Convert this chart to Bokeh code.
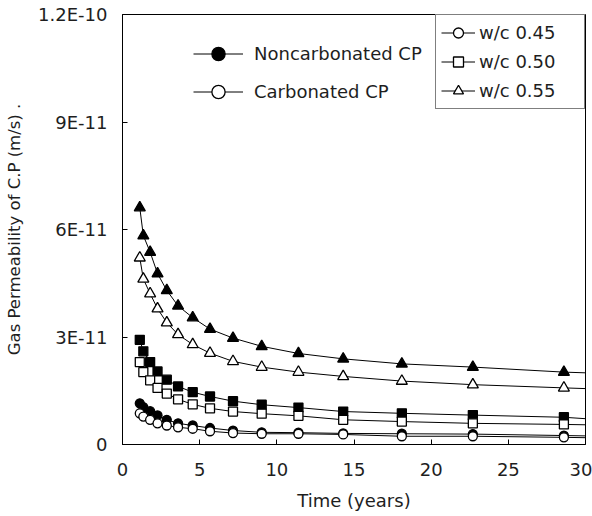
from bokeh.plotting import figure
from bokeh.models import Legend, LegendItem, FixedTicker, Range1d
from bokeh.embed import file_html
from bokeh.resources import INLINE

# ---- data (permeability in units of 1E-11 m/s) ----
years = [1.12, 1.35, 1.79, 2.27, 2.87, 3.60, 4.55, 5.67, 7.16, 9.02, 11.4, 14.3, 18.1, 22.7, 28.6]
end_year = 30

noncarb_045 = [1.15, 1.04, 0.93, 0.81, 0.69, 0.59, 0.53, 0.46, 0.39, 0.34, 0.33, 0.31, 0.30, 0.29, 0.25]
carb_045 = [0.87, 0.78, 0.69, 0.59, 0.53, 0.48, 0.44, 0.37, 0.32, 0.30, 0.30, 0.28, 0.23, 0.23, 0.20]
noncarb_050 = [2.92, 2.60, 2.30, 2.04, 1.81, 1.62, 1.46, 1.34, 1.21, 1.11, 1.03, 0.92, 0.87, 0.82, 0.76]
carb_050 = [2.30, 2.02, 1.79, 1.58, 1.42, 1.26, 1.12, 1.01, 0.92, 0.86, 0.80, 0.69, 0.64, 0.59, 0.56]
noncarb_055 = [6.61, 5.83, 5.37, 4.77, 4.30, 3.87, 3.54, 3.22, 2.97, 2.74, 2.54, 2.39, 2.25, 2.16, 2.02]
carb_055 = [5.21, 4.62, 4.21, 3.79, 3.40, 3.07, 2.79, 2.55, 2.32, 2.16, 2.02, 1.90, 1.77, 1.67, 1.58]

# curve values at the right edge (t = 30 years)
end_noncarb_045 = 0.24
end_carb_045 = 0.19
end_noncarb_050 = 0.72
end_carb_050 = 0.55
end_noncarb_055 = 2.00
end_carb_055 = 1.56

x_ticks = [0, 5, 10, 15, 20, 25, 30]
y_ticks = [0, 3, 6, 9, 12]
y_tick_labels = ["0", "3E-11", "6E-11", "9E-11", "1.2E-10"]

wc_labels = ["w/c 0.45", "w/c 0.50", "w/c 0.55"]
state_labels = ["Noncarbonated CP", "Carbonated CP"]
x_label = "Time (years)"
y_label = "Gas Permeability of C.P (m/s) ."

FONT = "DejaVu Sans"
TXT = "#1e1e1e"

p = figure(width=592, height=516, output_backend="svg", toolbar_location=None,
           x_range=Range1d(0, 30), y_range=Range1d(0, 12),
           min_border_left=122, min_border_right=7, min_border_top=14, min_border_bottom=72)
p.background_fill_color = "white"
p.border_fill_color = "white"
p.outline_line_color = "black"
p.outline_line_width = 1
p.xgrid.visible = False
p.ygrid.visible = False

for ax in (p.xaxis[0], p.yaxis[0]):
    ax.axis_line_color = "black"
    ax.major_tick_line_color = "black"
    ax.major_tick_in = 5
    ax.major_tick_out = 0
    ax.minor_tick_line_color = None
    ax.major_label_text_font = FONT
    ax.major_label_text_font_size = "18px"
    ax.major_label_text_color = TXT
    ax.axis_label_text_font = FONT
    ax.axis_label_text_font_style = "normal"
    ax.axis_label_text_color = TXT

p.xaxis[0].ticker = FixedTicker(ticks=x_ticks)
p.xaxis[0].major_label_standoff = 18
p.xaxis[0].axis_label = x_label
p.xaxis[0].axis_label_text_font_size = "18px"
p.xaxis[0].axis_label_standoff = 11

p.yaxis[0].ticker = FixedTicker(ticks=y_ticks)
p.yaxis[0].major_label_overrides = {t: s for t, s in zip(y_ticks, y_tick_labels)}
p.yaxis[0].major_label_standoff = 15
p.yaxis[0].axis_label = y_label
p.yaxis[0].axis_label_text_font_size = "16.5px"
p.yaxis[0].axis_label_standoff = 11

series = [
    (noncarb_045, end_noncarb_045, "circle", "black", 9),
    (noncarb_050, end_noncarb_050, "square", "black", 9),
    (noncarb_055, end_noncarb_055, "triangle", "black", 11),
    (carb_045, end_carb_045, "circle", "white", 9),
    (carb_050, end_carb_050, "square", "white", 9),
    (carb_055, end_carb_055, "triangle", "white", 11),
]

rends = []
for vals, endv, marker, fill, size in series:
    lr = p.line(years + [end_year], vals + [endv], line_color="black", line_width=1)
    sr = p.scatter(years, vals, marker=marker, size=size, fill_color=fill,
                   line_color="black", line_width=1.3)
    rends.append((lr, sr))

left_legend = Legend(
    items=[LegendItem(label=state_labels[0], renderers=list(rends[0])),
           LegendItem(label=state_labels[1], renderers=list(rends[3]))],
    location=(71, 336), glyph_width=50, glyph_height=33, label_height=33,
    spacing=5, padding=0, margin=0, label_standoff=11,
    border_line_color=None, background_fill_alpha=0,
    label_text_font=FONT, label_text_font_size="18px", label_text_color=TXT)

right_legend = Legend(
    items=[LegendItem(label=wc_labels[0], renderers=list(rends[3])),
           LegendItem(label=wc_labels[1], renderers=list(rends[4])),
           LegendItem(label=wc_labels[2], renderers=list(rends[5]))],
    location="top_right", glyph_width=34, glyph_height=25, label_height=25,
    label_width=100, spacing=4, padding=5, margin=0, label_standoff=4,
    border_line_color="black", border_line_width=1,
    background_fill_color="white", background_fill_alpha=1,
    label_text_font=FONT, label_text_font_size="18px", label_text_color=TXT)

p.add_layout(left_legend)
p.add_layout(right_legend)

open("out.html", "w").write(file_html(p, INLINE))
